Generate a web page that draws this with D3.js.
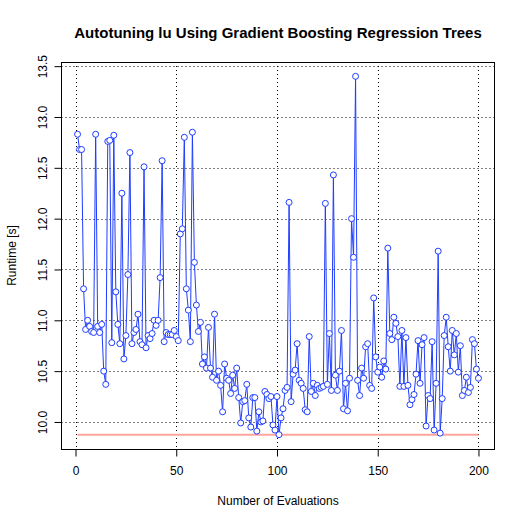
<!DOCTYPE html>
<html>
<head>
<meta charset="utf-8">
<script src="https://cdn.jsdelivr.net/npm/d3@7"></script>
<style>
  body { margin: 0; background: #fff; }
  text { font-family: "Liberation Sans", Arial, Helvetica, sans-serif; }
</style>
</head>
<body>
<div id="chart"></div>
<script>
var chart_width  = 526;
var chart_height = 526;

// runtime of each evaluation (evaluation number = index + 1)
var runtimes = [
  12.83, 12.68, 12.68, 11.31, 10.91, 11.00, 10.94, 10.89, 10.88, 12.83,
  10.94, 10.88, 10.96, 10.50, 10.37, 12.76, 12.77, 10.78, 12.82, 11.28,
  10.96, 10.77, 12.25, 10.62, 10.85, 11.45, 12.65, 10.77, 10.88, 10.91,
  11.06, 10.79, 10.76, 12.51, 10.73, 10.85, 10.82, 10.87, 11.00, 10.95,
  11.00, 11.42, 12.57, 10.79, 10.88, 10.86, 10.86, 10.86, 10.90, 10.84,
  10.80, 11.85, 11.90, 12.80, 11.31, 11.10, 10.79, 12.85, 11.57, 11.15,
  10.89, 10.98, 10.57, 10.64, 10.53, 10.93, 10.53, 10.44, 11.06, 10.41,
  10.50, 10.36, 10.10, 10.57, 10.43, 10.41, 10.28, 10.46, 10.33, 10.53,
  10.24,  9.99, 10.20, 10.21, 10.37, 10.04,  9.95, 10.24, 10.24,  9.91,
  10.10, 10.00, 10.01, 10.30, 10.27, 10.23, 10.25,  9.97,  9.92, 10.25,
   9.875,10.04, 10.13, 10.31, 10.34, 12.16, 10.20, 10.47, 10.51, 10.77,
  10.41, 10.38, 10.33, 10.12, 10.10, 10.84, 10.30, 10.38, 10.26, 10.36,
  10.33, 10.34, 10.35, 12.15, 10.37, 10.87, 10.31, 12.43, 10.46, 10.31,
  10.50, 10.90, 10.13, 10.38, 10.11, 10.43, 12.00, 11.62, 13.40, 10.41,
  10.26, 10.53, 10.43, 10.74, 10.77, 10.36, 10.33, 11.22, 10.64, 10.49,
  10.54, 10.44, 10.60, 10.52, 11.71, 10.87, 10.81, 11.03, 10.97, 10.84,
  10.35, 10.90, 10.35, 10.83, 10.36, 10.17, 10.22, 10.27, 10.47, 10.80,
  10.38, 10.76, 10.83,  9.96, 10.26, 10.23, 10.79,  9.92, 10.38, 11.68,
   9.89, 10.23, 10.85, 11.03, 10.74, 10.50, 10.90, 10.66, 10.87, 10.49,
  10.75, 10.26, 10.31, 10.44, 10.29, 10.34, 10.81, 10.77, 10.52, 10.43
];
var best_runtime = 9.875;

var x_ticks = [0, 50, 100, 150, 200];
var y_ticks = [10.0, 10.5, 11.0, 11.5, 12.0, 12.5, 13.0, 13.5];

var data = runtimes.map(function(v, i) {
  return {n: i + 1, t: v};
});

// R style axis ranges: data range widened by 4% on each side
function pad(ext) {
  var d = (ext[1] - ext[0]) * 0.04;
  return [ext[0] - d, ext[1] + d];
}

var plot_left = 61.5, plot_right = 494.5, plot_top = 62, plot_bottom = 449;

var x_scale = d3.scaleLinear()
  .domain(pad(d3.extent(data, function(d) { return d.n; })))
  .range([plot_left, plot_right]);

var y_scale = d3.scaleLinear()
  .domain(pad(d3.extent(data, function(d) { return d.t; })))
  .range([plot_bottom, plot_top]);

var svg = d3.select('#chart')
  .append('svg')
  .attr('width', chart_width)
  .attr('height', chart_height);

svg.append('rect')
  .attr('width', chart_width)
  .attr('height', chart_height)
  .attr('fill', '#fff');

// Grid
svg.append('g')
  .selectAll('line')
  .data(x_ticks)
  .enter()
  .append('line')
  .attr('x1', function(d) { return Math.round(x_scale(d)) + 0.5; })
  .attr('x2', function(d) { return Math.round(x_scale(d)) + 0.5; })
  .attr('y1', plot_top)
  .attr('y2', plot_bottom)
  .attr('stroke', '#000')
  .attr('stroke-dasharray', '1,3');

svg.append('g')
  .selectAll('line')
  .data(y_ticks)
  .enter()
  .append('line')
  .attr('y1', function(d) { return Math.round(y_scale(d)) + 0.5; })
  .attr('y2', function(d) { return Math.round(y_scale(d)) + 0.5; })
  .attr('x1', plot_left)
  .attr('x2', plot_right)
  .attr('stroke', '#000')
  .attr('stroke-dasharray', '1,3');

// Best runtime line
svg.append('line')
  .attr('x1', x_scale(1))
  .attr('x2', x_scale(200))
  .attr('y1', y_scale(best_runtime))
  .attr('y2', y_scale(best_runtime))
  .attr('stroke', '#ffa59c')
  .attr('stroke-width', 2);

// Runtime series
var line = d3.line()
  .x(function(d) { return x_scale(d.n); })
  .y(function(d) { return y_scale(d.t); });

svg.append('path')
  .datum(data)
  .attr('d', line)
  .attr('fill', 'none')
  .attr('stroke', '#1f3dff')
  .attr('stroke-width', 1);

svg.selectAll('circle')
  .data(data)
  .enter()
  .append('circle')
  .attr('cx', function(d) { return x_scale(d.n); })
  .attr('cy', function(d) { return y_scale(d.t); })
  .attr('r', 3)
  .attr('fill', '#fff')
  .attr('stroke', '#1f3dff')
  .attr('stroke-width', 1);

// Box
svg.append('rect')
  .attr('x', plot_left)
  .attr('y', plot_top + 0.5)
  .attr('width', plot_right - plot_left)
  .attr('height', plot_bottom - plot_top)
  .attr('fill', 'none')
  .attr('stroke', '#000');

// Axes
var x_axis = d3.axisBottom(x_scale)
  .tickValues(x_ticks)
  .tickSize(7)
  .tickPadding(10)
  .tickFormat(d3.format('d'));

var x_g = svg.append('g')
  .attr('transform', 'translate(0,' + (plot_bottom + 0.5) + ')')
  .call(x_axis);
x_g.select('.domain').attr('d', 'M' + x_scale(0) + ',0H' + x_scale(200));
x_g.selectAll('text').attr('font-size', 12).attr('fill', '#000')
  .attr('font-family', '"Liberation Sans", Arial, sans-serif');

var y_axis = d3.axisLeft(y_scale)
  .tickValues(y_ticks)
  .tickSize(7)
  .tickFormat(d3.format('.1f'));

var y_g = svg.append('g')
  .attr('transform', 'translate(' + plot_left + ',0)')
  .call(y_axis);
y_g.select('.domain').attr('d', 'M0,' + y_scale(10) + 'V' + y_scale(13.5));
y_g.selectAll('text')
  .attr('font-size', 12)
  .attr('fill', '#000')
  .attr('font-family', '"Liberation Sans", Arial, sans-serif')
  .attr('x', null)
  .attr('dy', null)
  .attr('text-anchor', 'middle')
  .attr('transform', 'translate(-15,0) rotate(-90)');

// Labels
svg.append('text')
  .attr('x', (plot_left + plot_right) / 2)
  .attr('y', 38)
  .attr('text-anchor', 'middle')
  .attr('font-size', 15)
  .attr('font-weight', 'bold')
  .text('Autotuning lu Using Gradient Boosting Regression Trees');

svg.append('text')
  .attr('x', (plot_left + plot_right) / 2)
  .attr('y', 505)
  .attr('text-anchor', 'middle')
  .attr('font-size', 12)
  .text('Number of Evaluations');

svg.append('text')
  .attr('transform', 'translate(16,' + (plot_top + plot_bottom) / 2 + ') rotate(-90)')
  .attr('text-anchor', 'middle')
  .attr('font-size', 12)
  .text('Runtime [s]');
</script>
</body>
</html>
